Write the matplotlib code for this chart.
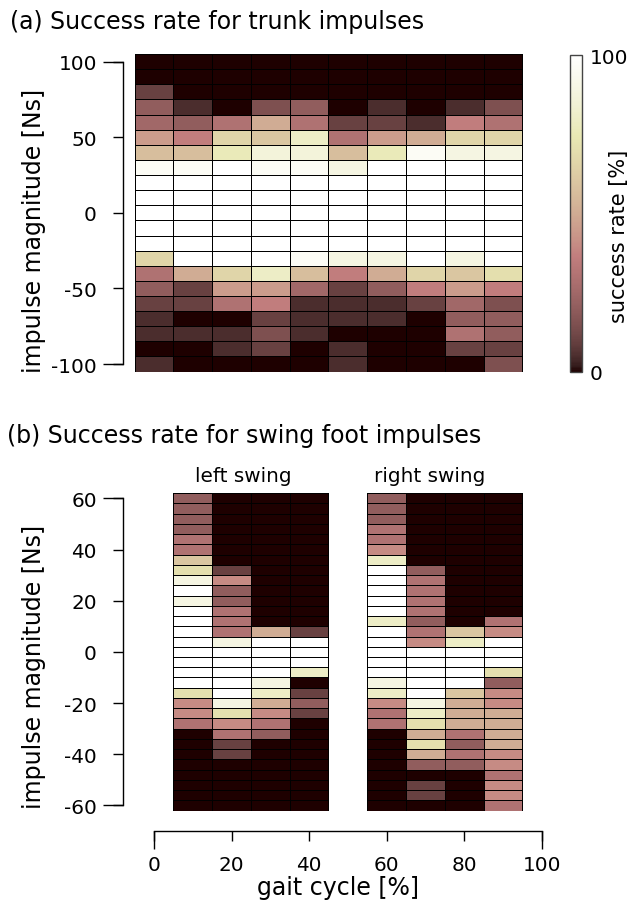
import numpy as np
import matplotlib
matplotlib.use("Agg")
import matplotlib.pyplot as plt
from matplotlib.ticker import FixedLocator

# ---- data: success rate [%] ----
# panel (a): trunk impulses, rows from +100 Ns down to -100 Ns
trunk_phase = [0, 10, 20, 30, 40, 50, 60, 70, 80, 90]
trunk_impulse = [100, 90, 80, 70, 60, 50, 40, 30, 20, 10, 0,
                 -10, -20, -30, -40, -50, -60, -70, -80, -90, -100]
trunk_rate = [
    [0, 0, 0, 0, 0, 0, 0, 0, 0, 0],
    [0, 0, 0, 0, 0, 0, 0, 0, 0, 0],
    [10, 0, 0, 0, 0, 0, 0, 0, 0, 0],
    [20, 5, 0, 15, 20, 0, 5, 0, 5, 15],
    [25, 20, 30, 50, 30, 10, 10, 5, 36, 30],
    [45, 36, 66, 60, 80, 30, 45, 50, 66, 66],
    [57, 57, 76, 86, 86, 57, 76, 96, 89, 89],
    [96, 96, 100, 96, 96, 89, 100, 100, 100, 100],
    [100, 100, 100, 100, 100, 100, 100, 100, 100, 100],
    [100, 100, 100, 100, 100, 100, 100, 100, 100, 100],
    [100, 100, 100, 100, 100, 100, 100, 100, 100, 100],
    [100, 100, 100, 100, 100, 100, 100, 100, 100, 100],
    [100, 100, 100, 100, 100, 100, 100, 100, 100, 100],
    [66, 100, 100, 100, 96, 89, 89, 100, 89, 100],
    [30, 50, 66, 80, 57, 36, 50, 66, 60, 70],
    [20, 10, 45, 45, 25, 10, 20, 36, 45, 36],
    [10, 10, 30, 36, 5, 5, 5, 10, 25, 15],
    [5, 0, 0, 10, 5, 5, 5, 0, 20, 20],
    [5, 5, 5, 15, 5, 0, 0, 0, 30, 20],
    [0, 0, 5, 10, 0, 5, 0, 0, 10, 10],
    [5, 0, 0, 0, 0, 5, 0, 0, 0, 15],
]

# panel (b): swing foot impulses, rows from +60 Ns down to -60 Ns
left_phase = [10, 20, 30, 40]
right_phase = [60, 70, 80, 90]
foot_impulse = [60, 56, 52, 48, 44, 40, 36, 32, 28, 24, 20, 16, 12, 8, 4, 0,
                -4, -8, -12, -16, -20, -24, -28, -32, -36, -40, -44, -48, -52, -56, -60]
left_rate = [
    [20, 0, 0, 0], [20, 0, 0, 0], [20, 0, 0, 0], [20, 0, 0, 0],
    [30, 0, 0, 0], [30, 0, 0, 0], [60, 0, 0, 0], [70, 10, 0, 0],
    [89, 40, 0, 0], [100, 20, 0, 0], [89, 20, 0, 0], [100, 30, 0, 0],
    [100, 30, 0, 0], [100, 30, 50, 10], [100, 89, 100, 100], [100, 100, 100, 100],
    [100, 100, 100, 100], [100, 100, 100, 80], [100, 100, 89, 0], [70, 100, 80, 10],
    [40, 89, 50, 20], [40, 70, 40, 10], [30, 40, 30, 0], [0, 30, 20, 0],
    [0, 10, 0, 0], [0, 10, 0, 0], [0, 0, 0, 0], [0, 0, 0, 0],
    [0, 0, 0, 0], [0, 0, 0, 0], [0, 0, 0, 0],
]
right_rate = [
    [20, 0, 0, 0], [20, 0, 0, 0], [20, 0, 0, 0], [30, 0, 0, 0],
    [30, 0, 0, 0], [40, 0, 0, 0], [80, 0, 0, 0], [100, 20, 0, 0],
    [100, 30, 0, 0], [100, 30, 0, 0], [100, 30, 0, 0], [100, 30, 0, 0],
    [80, 20, 0, 30], [100, 30, 60, 40], [100, 40, 80, 100], [100, 100, 100, 100],
    [100, 100, 100, 100], [100, 100, 100, 70], [89, 100, 100, 20], [80, 100, 60, 40],
    [40, 89, 50, 40], [30, 80, 50, 50], [30, 70, 50, 50], [0, 50, 30, 50],
    [0, 70, 20, 50], [0, 50, 30, 40], [0, 20, 20, 40], [0, 0, 0, 30],
    [0, 10, 0, 40], [0, 10, 0, 40], [0, 0, 0, 30],
]


def edges(centers):
    c = np.asarray(centers, dtype=float)
    mid = (c[1:] + c[:-1]) / 2
    return np.concatenate([[c[0] - (mid[0] - c[0])], mid, [c[-1] + (c[-1] - mid[-1])]])


TICK_FS = 14.4
LABEL_FS = 17
W, H = 641, 904

fig = plt.figure(figsize=(W / 100, H / 100), dpi=100)

ax_a = fig.add_axes([134.6 / W, 1 - 372.6 / H, 407.1 / W, 317.5 / H])
ax_b = fig.add_axes([134.6 / W, 1 - 811.6 / H, 407.1 / W, 317.4 / H])
cax = fig.add_axes([570 / W, 1 - 373 / H, 12.3 / W, 317 / H])

mesh_kw = dict(cmap="pink", vmin=0, vmax=100, edgecolors="k", linewidth=0.6)
mesh = ax_a.pcolormesh(edges(trunk_phase), edges(trunk_impulse), np.array(trunk_rate), **mesh_kw)
ax_b.pcolormesh(edges(left_phase), edges(foot_impulse), np.array(left_rate), **mesh_kw)
ax_b.pcolormesh(edges(right_phase), edges(foot_impulse), np.array(right_rate), **mesh_kw)


def style_axis(ax, ylim, yticks, xaxis):
    ax.set_xlim(-5, 100)
    ax.set_ylim(*ylim)
    for s in ["top", "right"]:
        ax.spines[s].set_visible(False)
    ax.spines["left"].set_position(("outward", 8.4))
    ax.spines["left"].set_bounds(yticks[0], yticks[-1])
    ax.spines["left"].set_linewidth(1.0)
    ax.set_yticks(yticks)
    ax.yaxis.set_minor_locator(FixedLocator([yticks[0], yticks[-1]]))
    ax.yaxis.remove_overlapping_locs = False
    ax.tick_params(axis="y", which="major", length=7.2, width=1.0, pad=11.5,
                   labelsize=TICK_FS)
    ax.tick_params(axis="y", which="minor", length=14.4, width=1.0)
    ax.set_yticklabels([str(t) for t in yticks])
    if xaxis:
        ax.spines["bottom"].set_position(("outward", 14.5))
        ax.spines["bottom"].set_bounds(0, 100)
        ax.spines["bottom"].set_linewidth(1.0)
        ax.set_xticks([0, 20, 40, 60, 80, 100])
        ax.xaxis.set_minor_locator(FixedLocator([0, 100]))
        ax.xaxis.remove_overlapping_locs = False
        ax.tick_params(axis="x", which="major", length=7.2, width=1.0, pad=10,
                       labelsize=TICK_FS)
        ax.tick_params(axis="x", which="minor", length=13, width=1.0)
    else:
        ax.spines["bottom"].set_visible(False)
        ax.set_xticks([])


style_axis(ax_a, (-105, 105), [-100, -50, 0, 50, 100], False)
style_axis(ax_b, (-62, 62), [-60, -40, -20, 0, 20, 40, 60], True)

ax_a.set_ylabel("impulse magnitude [Ns]", fontsize=LABEL_FS)
ax_a.yaxis.set_label_coords(-0.2177, 0.446)
ax_b.set_ylabel("impulse magnitude [Ns]", fontsize=LABEL_FS)
ax_b.yaxis.set_label_coords(-0.2177, 0.456)
ax_b.set_xlabel("gait cycle [%]", fontsize=LABEL_FS)
ax_b.xaxis.set_label_coords(0.5, -0.203)

fig.text(10 / W, 1 - 29.3 / H, "(a) Success rate for trunk impulses",
         fontsize=LABEL_FS, va="baseline", ha="left")
fig.text(7.3 / W, 1 - 442.7 / H, "(b) Success rate for swing foot impulses",
         fontsize=LABEL_FS, va="baseline", ha="left")
fig.text(243.5 / W, 1 - 481.7 / H, "left swing", fontsize=TICK_FS,
         va="baseline", ha="center")
fig.text(430 / W, 1 - 481.7 / H, "right swing", fontsize=TICK_FS,
         va="baseline", ha="center")

cbar = fig.colorbar(mesh, cax=cax, ticks=[0, 100])
cbar.outline.set_edgecolor("#444444")
cbar.outline.set_linewidth(1.0)
cax.tick_params(length=0, labelsize=TICK_FS, pad=5.5)
cbar.set_label("success rate [%]", fontsize=15)
cax.yaxis.set_label_coords(3.2, 0.43)

fig.savefig("out.png", dpi=100)
